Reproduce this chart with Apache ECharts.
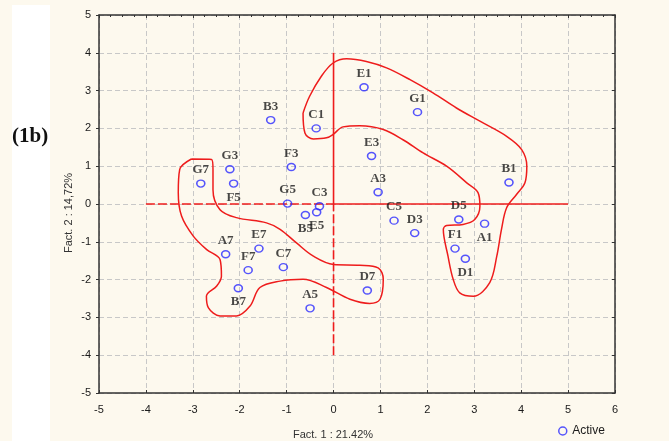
<!DOCTYPE html>
<html>
<head>
<meta charset="utf-8">
<script src="https://cdn.jsdelivr.net/npm/echarts@6/dist/echarts.min.js"></script>
<style>
html,body{margin:0;padding:0;background:#fdf9ee;}
#chart{width:669px;height:441px;}
</style>
</head>
<body>
<div id="chart"></div>
<script>
// ---- data ----
const pointNames = ['E1','G1','B3','C1','E3','B1','G3','F3','G7','F5','A3','G5','C3','B5','E5','C5','D3','D5','A1','F1','D1','A7','E7','F7','C7','B7','A5','D7'];
const fact1 = [0.65,1.79,-1.34,-0.37,0.81,3.74,-2.21,-0.9,-2.83,-2.13,0.95,-0.98,-0.3,-0.6,-0.36,1.29,1.73,2.67,3.22,2.59,2.81,-2.3,-1.59,-1.82,-1.07,-2.03,-0.5,0.72];
const fact2 = [3.09,2.43,2.22,2.0,1.27,0.57,0.92,0.98,0.54,0.54,0.31,0.01,-0.06,-0.29,-0.22,-0.44,-0.77,-0.41,-0.52,-1.18,-1.45,-1.33,-1.18,-1.75,-1.67,-2.23,-2.76,-2.29];

const xTicks = [-5,-4,-3,-2,-1,0,1,2,3,4,5,6];
const yTicks = [-5,-4,-3,-2,-1,0,1,2,3,4,5];

// hand-drawn group outlines (closed), in factor coordinates
const groupLeftX = [-3.03,-2.60,-2.57,-2.57,-2.42,-2.07,-1.43,-1.14,-0.79,-0.43,0.0,0.56,0.95,1.06,0.99,0.77,0.35,-0.15,-0.65,-1.14,-1.57,-1.78,-2.07,-2.42,-2.67,-2.71,-2.49,-2.39,-2.42,-2.71,-2.99,-3.24,-3.31,-3.28,-3.03];
const groupLeftY = [1.19,1.18,0.91,0.38,-0.15,-0.36,-0.50,-0.67,-1.03,-1.38,-1.60,-1.62,-1.69,-1.99,-2.52,-2.63,-2.52,-2.21,-1.99,-2.04,-2.21,-2.70,-2.96,-2.96,-2.74,-2.44,-2.17,-1.91,-1.47,-1.20,-0.85,-0.32,0.30,0.91,1.19];
const groupRightX = [-0.65,-0.51,-0.26,-0.01,0.28,0.70,1.13,1.63,2.12,2.62,3.12,3.69,4.01,4.12,4.08,3.90,3.69,3.58,3.48,3.33,2.98,2.69,2.55,2.44,2.34,2.41,2.76,3.01,3.12,3.08,2.84,2.41,1.91,1.48,1.06,0.56,0.20,-0.01,-0.15,-0.43,-0.61,-0.65];
const groupRightY = [2.41,2.85,3.38,3.73,3.84,3.77,3.60,3.29,2.94,2.54,2.19,1.79,1.44,1.00,0.56,0.25,-0.10,-0.67,-1.38,-2.08,-2.44,-2.35,-1.99,-1.38,-0.67,-0.57,-0.54,-0.41,-0.06,0.30,0.56,1.00,1.35,1.70,1.97,2.07,2.04,1.84,1.75,1.72,1.88,2.41];

// reference cross
const crossX = [-4,5];
const crossY = [-4,4];

// ---- styling config ----
const belowLabels = ['F5','B5','E5','A1','D1','B7'];
const RED = '#ee1c1c';
const BLUE = '#2a2aff';
const DARK = '#1a1a1a';

const pts = pointNames.map((n,i)=>{
  const d = {value:[fact1[i],fact2[i]], name:n};
  if (belowLabels.indexOf(n) >= 0) d.label = {position:'bottom', distance:3};
  return d;
});
const zip = (xs,ys)=>xs.map((x,i)=>[x,ys[i]]);

const refLine = (data, dashed)=>({
  type:'line', data, silent:true, showSymbol:false, symbol:'none', z:2,
  lineStyle:{color:RED, width:1.6, type: dashed ? [9,3] : 'solid'}
});
const outline = (data)=>({
  type:'line', data, silent:true, showSymbol:false, symbol:'none', smooth:0.35, z:2,
  lineStyle:{color:RED, width:1.5}
});

const chart = echarts.init(document.getElementById('chart'), null, {renderer:'canvas'});
const minX = xTicks[0], maxX = xTicks[xTicks.length-1];
const minY = yTicks[0], maxY = yTicks[yTicks.length-1];

chart.setOption({
  backgroundColor:'#fdf9ee',
  animation:false,
  grid:{left:99, right:54, top:15, bottom:48},
  graphic:[
    {type:'rect', left:12, top:5, shape:{width:38, height:436}, style:{fill:'#ffffff'}, z:-10},
    {type:'text', left:12, top:126, style:{text:'(1b)', font:'bold 21px "Liberation Serif", serif', fill:'#111'}},
    {type:'text', x:333, y:435, style:{text:'Fact. 1 : 21.42%', font:'11px "Liberation Sans", Arial, sans-serif', fill:'#333', align:'center', verticalAlign:'middle'}},
    {type:'text', x:69, y:213, rotation:Math.PI/2, style:{text:'Fact. 2 : 14,72%', font:'11px "Liberation Sans", Arial, sans-serif', fill:'#333', align:'center', verticalAlign:'middle'}}
  ],
  legend:{
    data:['Active'], left:553, top:420, itemWidth:9, itemHeight:8, itemGap:6,
    icon:'circle',
    itemStyle:{color:'rgba(0,0,0,0)', borderColor:BLUE, borderWidth:1.5},
    textStyle:{fontFamily:'"Liberation Sans", Arial, sans-serif', fontSize:12, color:DARK}
  },
  xAxis:[
    {type:'value', min:minX, max:maxX, interval:1, position:'bottom',
     axisLine:{show:true, onZero:false, lineStyle:{color:'#333', width:1.5}},
     axisTick:{show:true, inside:true, length:3, lineStyle:{color:'#333'}},
     axisLabel:{margin:11, color:DARK, fontSize:11, fontFamily:'"Liberation Sans", Arial, sans-serif'},
     splitLine:{show:true, lineStyle:{color:'#c8c8c8', type:[5,3], width:1}}},
    {type:'value', min:minX, max:maxX, interval:1, position:'top',
     axisLine:{show:true, onZero:false, lineStyle:{color:'#333', width:1.5}},
     axisTick:{show:true, inside:true, length:3, lineStyle:{color:'#333'}},
     minorTick:{show:true, splitNumber:4, length:2, lineStyle:{color:'#333'}},
     axisLabel:{show:false}, splitLine:{show:false}}
  ],
  yAxis:[
    {type:'value', min:minY, max:maxY, interval:1, position:'left',
     axisLine:{show:true, onZero:false, lineStyle:{color:'#333', width:1.5}},
     axisTick:{show:true, inside:false, length:3, lineStyle:{color:'#333'}},
     axisLabel:{margin:8, color:DARK, fontSize:11, fontFamily:'"Liberation Sans", Arial, sans-serif'},
     splitLine:{show:true, lineStyle:{color:'#c8c8c8', type:[5,3], width:1}}},
    {type:'value', min:minY, max:maxY, interval:1, position:'right',
     axisLine:{show:true, onZero:false, lineStyle:{color:'#333', width:1.5}},
     axisTick:{show:true, inside:true, length:3, lineStyle:{color:'#333'}},
     axisLabel:{show:false}, splitLine:{show:false}}
  ],
  series:[
    refLine([[crossX[0],0],[0,0]], true),
    refLine([[0,0],[crossX[1],0]], false),
    refLine([[0,0],[0,crossY[1]]], false),
    refLine([[0,crossY[0]],[0,0]], true),
    outline(zip(groupLeftX, groupLeftY)),
    outline(zip(groupRightX, groupRightY)),
    {
      name:'Active', type:'scatter', data:pts, z:5,
      symbol:'circle', symbolSize:[8,7],
      itemStyle:{color:'rgba(0,0,0,0)', borderColor:BLUE, borderWidth:1.5},
      label:{show:true, position:'top', distance:3, formatter:'{b}',
        color:DARK, fontSize:13, fontWeight:'bold', fontFamily:'"Liberation Serif", serif'}
    }
  ]
});
</script>
</body>
</html>
